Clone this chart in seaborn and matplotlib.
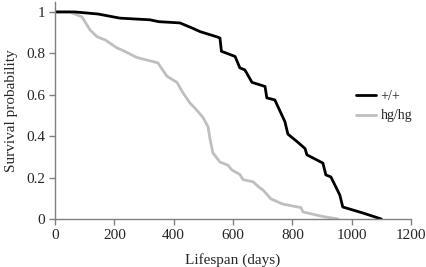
import numpy as np, pandas as pd
import matplotlib; matplotlib.use("Agg")
import matplotlib.pyplot as plt
import seaborn as sns

sns.set_theme(style="white")
plt.rcParams["font.family"] = ["Liberation Serif", "DejaVu Serif"]

# survival curves
wt_days = [0, 67, 145, 219, 320, 350, 421, 466, 489, 545, 556, 561, 607, 623, 640, 664,
           708, 714, 741, 775, 785, 819, 843, 849, 903, 913, 930, 960, 970, 1040, 1100]
wt_surv = [1.0, 1.0, 0.99, 0.97, 0.962, 0.953, 0.947, 0.92, 0.905, 0.88, 0.874, 0.81,
           0.785, 0.73, 0.72, 0.66, 0.64, 0.585, 0.575, 0.47, 0.41, 0.37, 0.34, 0.31,
           0.27, 0.213, 0.203, 0.116, 0.058, 0.028, 0.0]
hg_days = [0, 50, 91, 118, 142, 169, 209, 226, 276, 347, 377, 388, 411, 431, 455, 472,
           499, 516, 522, 532, 556, 583, 596, 623, 634, 667, 691, 701, 728, 768, 829,
           836, 903, 954]
hg_surv = [1.0, 1.0, 0.976, 0.913, 0.88, 0.865, 0.826, 0.816, 0.78, 0.754, 0.69, 0.68,
           0.66, 0.61, 0.56, 0.535, 0.49, 0.445, 0.39, 0.32, 0.275, 0.26, 0.237, 0.215,
           0.19, 0.18, 0.15, 0.14, 0.097, 0.072, 0.055, 0.034, 0.012, 0.0]
labels = ["+/+", "hg/hg"]
colors = ["black", "#bfbfbf"]

x_ticks = [0, 200, 400, 600, 800, 1000, 1200]
y_ticks = [0, 0.2, 0.4, 0.6, 0.8, 1.0]
y_ticklabels = ["0", "0.2", "0.4", "0.6", "0.8", "1"]

df = pd.concat([
    pd.DataFrame({"days": wt_days, "surv": wt_surv, "geno": labels[0]}),
    pd.DataFrame({"days": hg_days, "surv": hg_surv, "geno": labels[1]}),
], ignore_index=True)

fig = plt.figure(figsize=(4.26, 2.67), dpi=100)
ax = fig.add_axes([55/426, 48/267, 356/426, 217/267])
sns.lineplot(data=df, x="days", y="surv", hue="geno", hue_order=labels[::-1],
             palette=dict(zip(labels, colors)), estimator=None, sort=False,
             lw=2, ax=ax, legend=False)

ax.set_xlim(0, 1200); ax.set_ylim(0, 1.048)
ax.set_xticks(x_ticks); ax.set_xticklabels([str(t) for t in x_ticks])
ax.set_yticks(y_ticks); ax.set_yticklabels(y_ticklabels)
ax.set_xlabel("Lifespan (days)", fontsize=11, labelpad=8)
ax.set_ylabel("Survival probability", fontsize=11, labelpad=6)
for s in ["top", "right"]:
    ax.spines[s].set_visible(False)
for s in ["left", "bottom"]:
    ax.spines[s].set_color("#808080"); ax.spines[s].set_linewidth(1)
ax.tick_params(axis="both", length=4, width=1, color="#808080", labelsize=11,
               direction="out", pad=3, bottom=True, left=True)
ax.grid(False)

handles = [plt.Line2D([], [], color=c, lw=2) for c in colors]
fig.legend(handles, labels, loc="upper left", bbox_to_anchor=(350/426, 1 - 84/267),
           frameon=False, fontsize=10, handlelength=1.5, handletextpad=0.3,
           labelspacing=0.5, borderaxespad=0)

fig.savefig("out.png", dpi=100)
